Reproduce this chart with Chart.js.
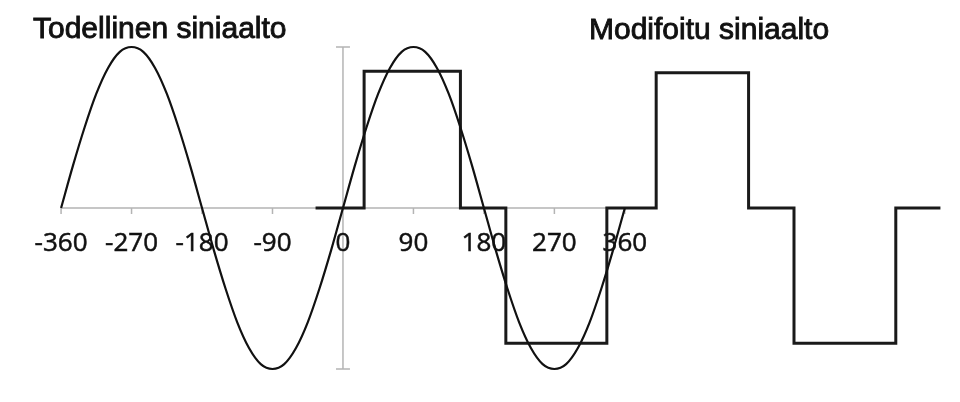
<!DOCTYPE html>
<html>
<head>
<meta charset="utf-8">
<script src="https://cdn.jsdelivr.net/npm/chart.js@4"></script>
<style>
  html, body { margin:0; padding:0; background:#fff; }
  #wrap { width:960px; height:402px; }
</style>
</head>
<body>
<div id="wrap"><canvas id="c" width="960" height="402"></canvas></div>
<script>
// true sine, read every 15 degrees
const sineDeg = [-360,-345,-330,-315,-300,-285,-270,-255,-240,-225,-210,-195,-180,-165,-150,-135,-120,-105,-90,-75,-60,-45,-30,-15,
                 0,15,30,45,60,75,90,105,120,135,150,165,180,195,210,225,240,255,270,285,300,315,330,345,360];
const sineVal = [0,0.26,0.5,0.71,0.87,0.97,1,0.97,0.87,0.71,0.5,0.26,0,-0.26,-0.5,-0.71,-0.87,-0.97,-1,-0.97,-0.87,-0.71,-0.5,-0.26,
                 0,0.26,0.5,0.71,0.87,0.97,1,0.97,0.87,0.71,0.5,0.26,0,-0.26,-0.5,-0.71,-0.87,-0.97,-1,-0.97,-0.87,-0.71,-0.5,-0.26,0];

// modified sine (stepped)
const modDeg = [-35,27,27,150,150,208,208,337,337,400,400,518,518,576,576,706,706,763];
const modVal = [0,0,0.85,0.85,0,0,-0.84,-0.84,0,0,0.84,0.84,0,0,-0.84,-0.84,0,0];

const tickVals = [-360,-270,-180,-90,0,90,180,270,360];
const tickLabels = ['-360','-270','-180','-90','0','90','180','270','360'];
const titles = ['Todellinen siniaalto','Modifoitu siniaalto'];

const sinePts = sineDeg.map((d,i) => ({ x:d, y:sineVal[i] }));
const modPts = modDeg.map((d,i) => ({ x:d, y:modVal[i] }));

// gray axes, tick labels and titles
const axesPlugin = {
  id:'axes',
  beforeDatasetsDraw(chart){
    const c = chart.ctx, xs = chart.scales.x, ys = chart.scales.y;
    const y0 = ys.getPixelForValue(0);
    const x0 = xs.getPixelForValue(0);
    c.save();
    c.strokeStyle = '#b4b4b4';
    c.lineWidth = 1.5;
    c.beginPath();
    c.moveTo(xs.getPixelForValue(-360), y0);
    c.lineTo(xs.getPixelForValue(360), y0);
    tickVals.forEach(v => {
      const px = xs.getPixelForValue(v);
      c.moveTo(px, y0); c.lineTo(px, y0 + 6);
    });
    const yt = ys.getPixelForValue(1.0), yb = ys.getPixelForValue(-1.0);
    c.moveTo(x0, yt); c.lineTo(x0, yb);
    c.moveTo(x0 - 7, yt); c.lineTo(x0 + 7, yt);
    c.moveTo(x0 - 7, yb); c.lineTo(x0 + 7, yb);
    c.stroke();

    c.fillStyle = '#111';
    c.strokeStyle = '#111';
    c.font = '26px "Open Sans"';
    c.textAlign = 'center';
    c.textBaseline = 'alphabetic';
    c.lineWidth = 0.5;
    tickVals.forEach((v,i) => {
      const px = xs.getPixelForValue(v);
      c.fillText(tickLabels[i], px, y0 + 43);
      c.strokeText(tickLabels[i], px, y0 + 43);
    });

    c.font = '30px "Liberation Sans"';
    c.textAlign = 'left';
    c.lineWidth = 0.9;
    c.fillText(titles[0], 33, 38);
    c.strokeText(titles[0], 33, 38);
    c.fillText(titles[1], 589, 39);
    c.strokeText(titles[1], 589, 39);
    c.restore();
  }
};

new Chart(document.getElementById('c'), {
  type:'line',
  data:{
    datasets:[
      { data:sinePts, borderColor:'#111', borderWidth:2.2, pointRadius:0, cubicInterpolationMode:'monotone', fill:false },
      { data:modPts, borderColor:'#1a1a1a', borderWidth:3, pointRadius:0, tension:0, borderJoinStyle:'miter', fill:false }
    ]
  },
  options:{
    responsive:false,
    animation:false,
    events:[],
    layout:{ padding:0 },
    plugins:{ legend:{ display:false }, tooltip:{ enabled:false } },
    scales:{
      x:{ type:'linear', min:-438, max:788, display:false },
      y:{ type:'linear', min:-1.205, max:1.292, display:false }
    }
  },
  plugins:[axesPlugin]
});
</script>
</body>
</html>
